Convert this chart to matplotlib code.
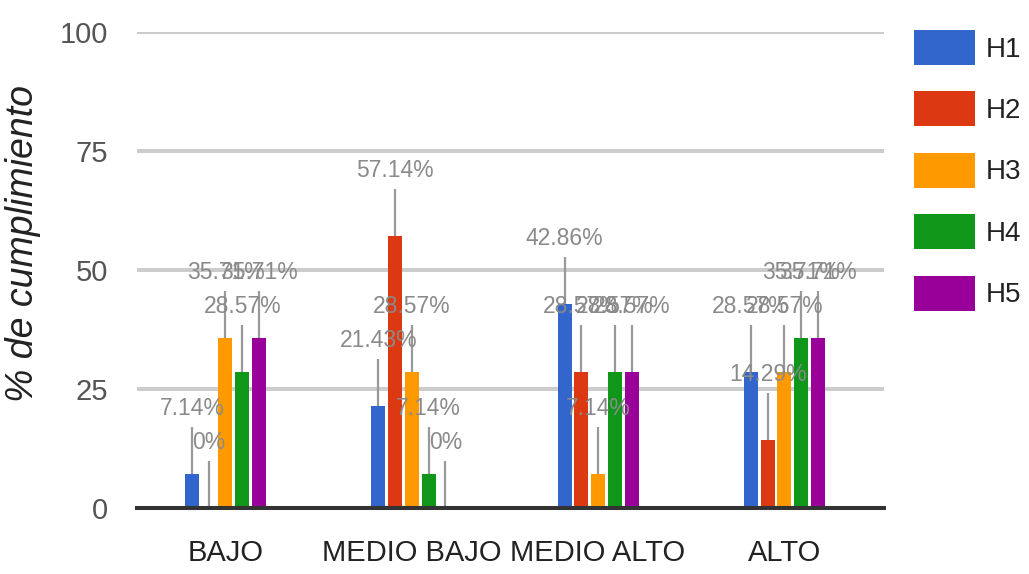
import matplotlib
matplotlib.use('Agg')
import matplotlib.pyplot as plt
import matplotlib.transforms as mtransforms
import numpy as np

plt.rcParams['font.family'] = ['Liberation Sans', 'DejaVu Sans']

categories = ['BAJO', 'MEDIO BAJO', 'MEDIO ALTO', 'ALTO']
series = ['H1', 'H2', 'H3', 'H4', 'H5']
h1 = [7.14, 21.43, 42.86, 28.57]
h2 = [0, 57.14, 28.57, 14.29]
h3 = [35.71, 28.57, 7.14, 28.57]
h4 = [28.57, 7.14, 28.57, 35.71]
h5 = [35.71, 0, 28.57, 35.71]
values = [h1, h2, h3, h4, h5]
colors = ['#3366cc', '#dc3912', '#ff9900', '#109618', '#990099']
yticks = [0, 25, 50, 75, 100]

W, H = 1029, 574
fig = plt.figure(figsize=(W / 100, H / 100), dpi=100)
ax = fig.add_axes([137 / W, 1 - 508 / H, (884 - 137) / W, (508 - 32) / H])

x = np.arange(len(categories))
width = 0.075
pitch = 0.09
stem = 9.9      # stem length in data units (~47 px)
lab_off = 13.7  # label centre above bar top

handles = []
for i, (name, vals) in enumerate(zip(series, values)):
    xs = x + (i - 2) * pitch
    b = ax.bar(xs, vals, width, color=colors[i], label=name, zorder=3)
    handles.append(b)
    for xi, v in zip(xs, vals):
        ax.vlines(xi, v, v + stem, color='#999999', lw=1.6, zorder=2)
        ax.text(xi, v + lab_off, f'{v:g}%', ha='center', va='center',
                fontsize=16.5, color='#8a8a8a', zorder=4)

ax.set_xlim(-0.475, 3.535)
ax.set_ylim(0, 100)
ax.set_yticks(yticks)
ax.set_yticklabels([str(t) for t in yticks], fontsize=21, color='#555555')
ax.set_xticks(x)
ax.set_xticklabels(categories, fontsize=21, color='#222222')
offset = mtransforms.ScaledTranslation(5 / 100, 0, fig.dpi_scale_trans)
for lbl in ax.get_xticklabels():
    lbl.set_transform(lbl.get_transform() + offset)
ax.tick_params(axis='both', length=0)
ax.tick_params(axis='y', pad=21)
ax.tick_params(axis='x', pad=22)

ax.grid(axis='y', color='#cccccc', lw=2.9, zorder=0)
ax.axhline(0, color='#333333', lw=2.9, zorder=5, clip_on=False)
for s in ax.spines.values():
    s.set_visible(False)

ax.set_ylabel('% de cumplimiento', fontsize=27, style='italic', color='#222222')
ax.yaxis.set_label_coords(-0.128, 0.555)

fig.legend(handles=handles, labels=series, loc='upper left',
           bbox_to_anchor=(914 / W, 1 - 30 / H), frameon=False, fontsize=20,
           handlelength=2.2, handleheight=1.55, handletextpad=0.4,
           labelspacing=0.96, borderpad=0, borderaxespad=0,
           labelcolor='#222222')

fig.savefig('out.png', dpi=100)
